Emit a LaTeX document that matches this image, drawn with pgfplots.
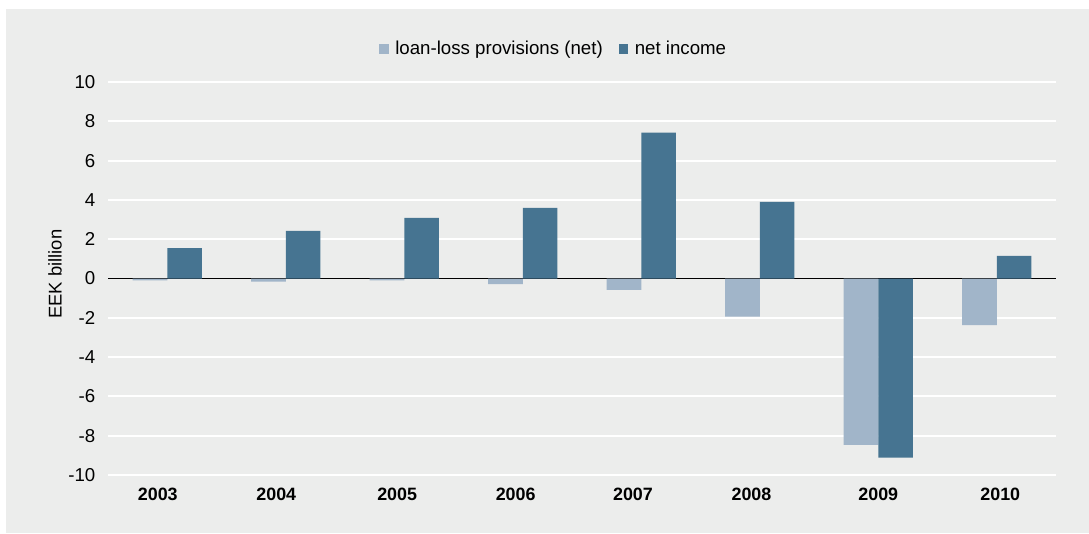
\documentclass[border=0pt]{standalone}
\usepackage{pgfplots}
\pgfplotsset{compat=1.18}
\usepackage{fontspec}
\setmainfont{Liberation Sans}
\definecolor{panel}{HTML}{ECEDEC}
\definecolor{loancol}{HTML}{A1B5C9}
\definecolor{netcol}{HTML}{467491}
\begin{document}
\begin{tikzpicture}
% 1 px of the reference = 0.75pt
\fill[white] (0pt,0pt) rectangle (816.75pt,-399.75pt);
\fill[panel] (4.5pt,-6.75pt) rectangle (816.75pt,-399.75pt);
\begin{axis}[
    at={(81pt,-356.25pt)}, anchor=south west,
    scale only axis,
    width=711pt, height=294.75pt,
    ybar=0pt, bar width=26pt,
    xmin=-0.5, xmax=7.5,
    ymin=-10, ymax=10,
    xtick={-0.08,0.92,1.94,2.94,3.93,4.93,6.0,7.03},
    xticklabels={\textbf{2003},\textbf{2004},\textbf{2005},\textbf{2006},\textbf{2007},\textbf{2008},\textbf{2009},\textbf{2010}},
    ytick={-10,-8,...,10},
    yticklabels={-10,-8,-6,-4,-2,0,2,4,6,8,10},
    major tick length=0pt,
    axis line style={draw=none},
    ymajorgrids,
    major grid style={white, line width=1.4pt},
    extra y ticks={0}, extra y tick labels={},
    extra y tick style={grid=major, major grid style={black, line width=1.3pt}},
    ticklabel style={text=black},
    xticklabel style={font=\fontsize{13.4}{15}\selectfont, yshift=-6pt},
    yticklabel style={font=\fontsize{14}{16}\selectfont, xshift=-6pt},
    ylabel={EEK billion},
    ylabel style={at={(axis description cs:-0.0559,0.511)}, anchor=center, font=\fontsize{13.8}{16}\selectfont},
    legend style={draw=none, fill=none, at={(0.4705,1.084)}, anchor=center,
        legend columns=-1, font=\fontsize{14}{16}\selectfont,
        /tikz/every even column/.append style={column sep=10pt}},
    legend image code/.code={\fill[#1] (0pt,-3.6pt) rectangle (7.2pt,3.6pt); \path (10pt,0pt);},
]
\addplot[fill=loancol, draw=none] coordinates {
(0,-0.10) (1,-0.16) (2,-0.10) (3,-0.28) (4,-0.58) (5,-1.94) (6,-8.47) (7,-2.37)
};
\addplot[fill=netcol, draw=none] coordinates {
(0,1.55) (1,2.42) (2,3.08) (3,3.59) (4,7.42) (5,3.90) (6,-9.12) (7,1.15)
};
\legend{loan-loss provisions (net), net income}
\end{axis}
\end{tikzpicture}
\end{document}
